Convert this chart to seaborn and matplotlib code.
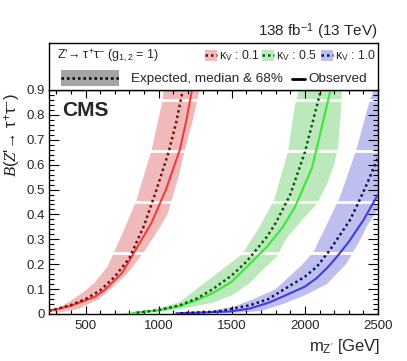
import numpy as np
import matplotlib
matplotlib.use('Agg')
import matplotlib.pyplot as plt
import seaborn as sns
from matplotlib.patches import Rectangle
from matplotlib.ticker import MultipleLocator, FuncFormatter

# ----- DATA -----
# kappa_V = 0.1
red_obs_m = [250, 400, 500, 560, 630, 750, 830, 950, 1050, 1145, 1190, 1228]
red_obs_b = [0.012, 0.033, 0.055, 0.068, 0.096, 0.165, 0.245, 0.365, 0.50, 0.66, 0.78, 0.90]
red_exp_m = [250, 400, 500, 600, 700, 800, 900, 980, 1068, 1120, 1165]
red_exp_b = [0.012, 0.036, 0.060, 0.095, 0.15, 0.225, 0.355, 0.49, 0.65, 0.77, 0.90]
red_up_m = [280, 390, 480, 560, 650, 750, 850, 952, 1020, 1035]
red_up_b = [0.012, 0.05, 0.085, 0.125, 0.19, 0.32, 0.46, 0.66, 0.84, 0.90]
red_lo_m = [300, 450, 590, 680, 790, 900, 1000, 1060, 1100, 1140, 1180, 1230, 1280]
red_lo_b = [0.004, 0.02, 0.06, 0.105, 0.165, 0.25, 0.34, 0.40, 0.48, 0.56, 0.66, 0.77, 0.90]

# kappa_V = 0.5
green_obs_m = [820, 1000, 1144, 1260, 1370, 1500, 1603, 1740, 1849, 1932, 2048, 2103, 2175]
green_obs_b = [0.004, 0.015, 0.032, 0.056, 0.084, 0.13, 0.19, 0.27, 0.35, 0.43, 0.586, 0.72, 0.90]
green_exp_m = [850, 1000, 1144, 1260, 1370, 1500, 1600, 1740, 1800, 1900, 2000, 2057, 2110]
green_exp_b = [0.005, 0.016, 0.035, 0.062, 0.10, 0.155, 0.21, 0.31, 0.365, 0.48, 0.65, 0.78, 0.90]
green_up_m = [720, 900, 1000, 1144, 1370, 1570, 1700, 1790, 1884, 1932, 1960]
green_up_b = [0.002, 0.012, 0.022, 0.048, 0.15, 0.24, 0.36, 0.46, 0.65, 0.84, 0.90]
green_lo_m = [760, 1000, 1144, 1370, 1500, 1623, 1712, 1808, 1870, 1979, 2080, 2150, 2200, 2226, 2245, 2253]
green_lo_b = [0.0, 0.008, 0.02, 0.045, 0.075, 0.124, 0.177, 0.23, 0.30, 0.377, 0.44, 0.52, 0.60, 0.667, 0.80, 0.90]

# kappa_V = 1.0
blue_obs_m = [1120, 1300, 1486, 1623, 1750, 1849, 2000, 2082, 2160, 2226, 2300, 2400, 2500]
blue_obs_b = [0.003, 0.006, 0.01, 0.022, 0.045, 0.07, 0.11, 0.145, 0.19, 0.235, 0.29, 0.377, 0.48]
blue_exp_m = [1150, 1400, 1623, 1750, 1849, 2000, 2082, 2171, 2308, 2360, 2430, 2500]
blue_exp_b = [0.003, 0.01, 0.035, 0.06, 0.096, 0.15, 0.19, 0.257, 0.377, 0.44, 0.53, 0.63]
blue_up_m = [1150, 1350, 1507, 1650, 1800, 1979, 2060, 2150, 2240, 2356, 2430, 2470, 2530]
blue_up_b = [0.004, 0.012, 0.028, 0.06, 0.10, 0.197, 0.25, 0.36, 0.47, 0.667, 0.83, 0.90, 0.95]
blue_lo_m = [1200, 1500, 1700, 1850, 2000, 2150, 2281, 2380, 2431, 2500, 2530]
blue_lo_b = [0.001, 0.004, 0.012, 0.04, 0.075, 0.12, 0.20, 0.30, 0.36, 0.42, 0.45]

kappa_labels = ['0.1', '0.5', '1.0']
x_ticks = [500, 1000, 1500, 2000, 2500]

# ----- STYLE -----
sns.set_style('ticks')
plt.rcParams['font.family'] = ['Liberation Sans', 'DejaVu Sans']
plt.rcParams['mathtext.fontset'] = 'custom'
plt.rcParams['mathtext.rm'] = 'Liberation Sans'
plt.rcParams['mathtext.it'] = 'Liberation Serif:italic'
plt.rcParams['mathtext.bf'] = 'Liberation Sans:bold'

band_cols = ['#f0baba', '#bbe9bb', '#bfbfef']
obs_cols = ['#f23c3c', '#3ce63c', '#3c3ce6']
exp_cols = ['#701010', '#0a5a0a', '#12125e']

fig = plt.figure(figsize=(4.07, 3.61), dpi=100)
ax = fig.add_axes([49 / 407, 1 - 314 / 361, 329 / 407, 224 / 361])

sets = [
    (red_up_m, red_up_b, red_lo_m, red_lo_b, red_exp_m, red_exp_b, red_obs_m, red_obs_b),
    (green_up_m, green_up_b, green_lo_m, green_lo_b, green_exp_m, green_exp_b, green_obs_m, green_obs_b),
    (blue_up_m, blue_up_b, blue_lo_m, blue_lo_b, blue_exp_m, blue_exp_b, blue_obs_m, blue_obs_b),
]

for i, (um, ub, lm, lb, em, eb, om, ob) in enumerate(sets):
    ax.fill(np.concatenate([um, lm[::-1]]), np.concatenate([ub, lb[::-1]]),
            color=band_cols[i], lw=0, zorder=1)

# white stripes through the bands (rendering gaps in the original)
for yb in [0.245, 0.45, 0.655, 0.86]:
    ax.axhline(yb, color='white', lw=2, zorder=1.2)

for i, (um, ub, lm, lb, em, eb, om, ob) in enumerate(sets):
    sns.lineplot(x=om, y=ob, ax=ax, color=obs_cols[i], lw=1.5, estimator=None, zorder=3)
    sns.lineplot(x=em, y=eb, ax=ax, color=exp_cols[i], lw=1.8, linestyle=(0, (1, 1.2)),
                 estimator=None, zorder=3)

ax.set_xlim(250, 2500)
ax.set_ylim(0, 0.9)
ax.set_xticks(x_ticks)
ax.xaxis.set_minor_locator(MultipleLocator(100))
ax.yaxis.set_major_locator(MultipleLocator(0.1))
ax.yaxis.set_minor_locator(MultipleLocator(0.02))
ax.yaxis.set_major_formatter(FuncFormatter(lambda v, p: '0' if abs(v) < 1e-9 else f'{v:.1f}'))
ax.set_xlabel('')
ax.set_ylabel('')
ax.set_axisbelow(False)
ax.tick_params(which='both', direction='in', top=True, right=True, labelsize=9.5, width=0.8, color='black')
ax.tick_params(axis='x', which='major', length=6, pad=4)
ax.tick_params(axis='x', which='minor', length=3)
ax.tick_params(axis='y', which='major', length=7, pad=3)
ax.tick_params(axis='y', which='minor', length=3.5)
for s in ax.spines.values():
    s.set_linewidth(1.0)
    s.set_color('black')

# ----- LEGEND BOX -----
lax = fig.add_axes([49 / 407, 1 - 90 / 361, 329 / 407, 47 / 361])
lax.set_xlim(49, 378)
lax.set_ylim(90, 43)
lax.set_xticks([])
lax.set_yticks([])
for s in lax.spines.values():
    s.set_linewidth(1.0)
    s.set_color('black')
lax.text(57, 56, "Z'→ τ$^{+}$τ$^{-}$ (g$_{1,2}$ = 1)", fontsize=9, va='center', ha='left')
for i, x0 in enumerate([205, 262, 321]):
    lax.add_patch(Rectangle((x0, 49.5), 12, 11, color=band_cols[i], lw=0))
    lax.plot([x0, x0 + 12], [55, 55], color=exp_cols[i], lw=1.8, ls=(0, (1, 1.2)))
    lax.text(x0 + 14, 56, 'κ$_{\\mathrm{V}}$ : ' + kappa_labels[i], fontsize=8.8, va='center', ha='left')
lax.add_patch(Rectangle((61, 70), 58, 16, color='#a4a4a4', lw=0))
lax.plot([61, 119], [78, 78], color='black', lw=1.8, ls=(0, (1, 1.2)))
lax.text(131, 79, 'Expected, median & 68%', fontsize=9.7, va='center', ha='left')
lax.plot([292, 305], [78.5, 78.5], color='black', lw=2)
lax.text(308, 79, 'Observed', fontsize=9.7, va='center', ha='left')

# ----- LABELS -----
fig.text(378 / 407, 1 - 36 / 361, '138 fb$^{-1}$ (13 TeV)', fontsize=11, ha='right', va='baseline')
fig.text(62 / 407, 1 - 101 / 361, 'CMS', fontsize=15, weight='bold', ha='left', va='top')
fig.text(380 / 407, 1 - 351 / 361, "m$_{\\mathrm{Z'}}$ [GeV]", fontsize=12, ha='right', va='baseline')
fig.text(13 / 407, 1 - 93 / 361, "$B$($Z$'→ τ$^{+}$τ$^{-}$)", fontsize=12, rotation=90,
         ha='center', va='top')

fig.savefig('out.png', dpi=100)
